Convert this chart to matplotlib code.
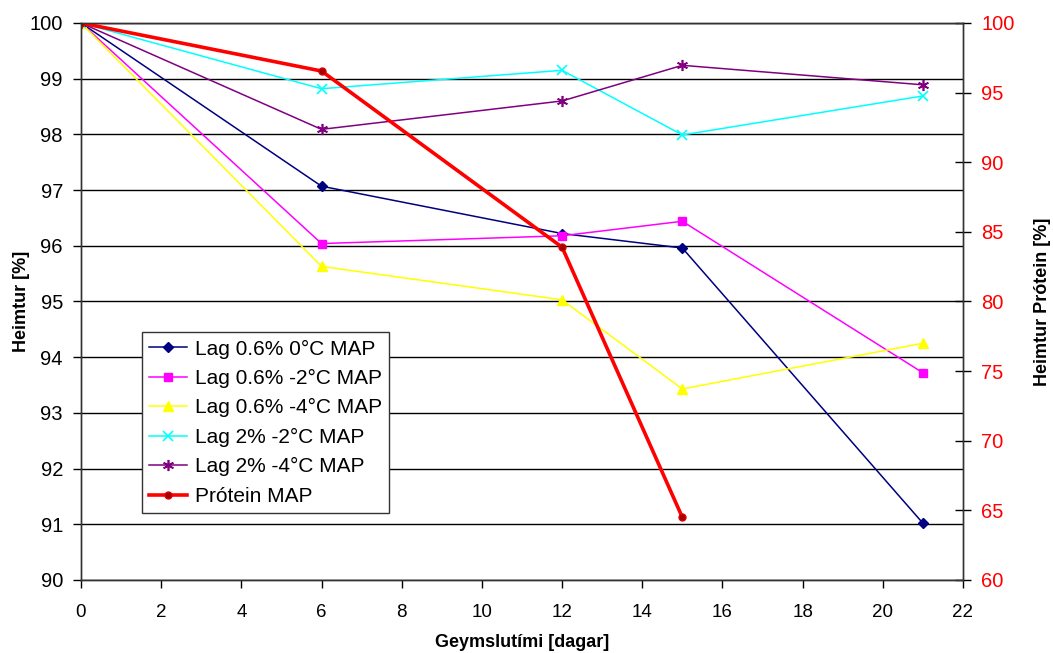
import matplotlib
matplotlib.use("Agg")
import matplotlib.pyplot as plt

plt.rcParams['font.family'] = ['Liberation Sans', 'DejaVu Sans']

# storage days and relative yield per treatment
days = [0, 6, 12, 15, 21]
lag06_0 = [100, 97.07, 96.22, 95.96, 91.02]
lag06_m2 = [100, 96.04, 96.18, 96.44, 93.72]
lag06_m4 = [100, 95.63, 95.03, 93.43, 94.25]
lag2_m2 = [100, 98.82, 99.15, 97.99, 98.69]
lag2_m4 = [100, 98.09, 98.60, 99.24, 98.89]

protein_days = [0, 6, 12, 15]
protein = [100, 96.55, 83.9, 64.5]

labels = ['Lag 0.6% 0°C MAP', 'Lag 0.6% -2°C MAP', 'Lag 0.6% -4°C MAP',
          'Lag 2% -2°C MAP', 'Lag 2% -4°C MAP', 'Prótein MAP']

fig = plt.figure(figsize=(10.53, 6.53), dpi=100)
ax = fig.add_axes([0.0769, 0.1118, 0.8376, 0.853])

ax.set_xlim(0, 22)
ax.set_ylim(90, 100)
ax.set_xticks(range(0, 23, 2))
ax.set_yticks(range(90, 101))
ax.yaxis.grid(True, color='black', linewidth=1)
ax.set_axisbelow(True)

lines = []
lines += ax.plot(days, lag06_0, color='#000080', marker='D', markersize=5, lw=1.1)
lines += ax.plot(days, lag06_m2, color='#FF00FF', marker='s', markersize=6, lw=1.1)
lines += ax.plot(days, lag06_m4, color='#FFFF00', marker='^', markersize=7, lw=1.1)
lines += ax.plot(days, lag2_m2, color='#00FFFF', marker='x', markersize=7, mew=1.2, lw=1.1)
lines += ax.plot(days, lag2_m4, color='#800080', marker=(6, 2, 0), markersize=8, mew=1.2, lw=1.1)

ax2 = ax.twinx()
ax2.set_ylim(60, 100)
ax2.set_yticks(range(60, 101, 5))
lines += ax2.plot(protein_days, protein, color='#FF0000', marker='o', markersize=5,
                  markerfacecolor='#A00000', markeredgecolor='#E00000', lw=2.6)

for a in (ax, ax2):
    for s in a.spines.values():
        s.set_color('#333333')
        s.set_linewidth(1)

ax.tick_params(axis='y', direction='out', length=6, width=1, pad=7, labelsize=14.5)
ax.tick_params(axis='x', direction='out', length=6, width=1, pad=11, labelsize=13.5)
ax2.tick_params(axis='y', direction='inout', length=12, width=1, pad=7,
                labelsize=14.5, labelcolor='#FF0000')

ax.set_xlabel('Geymslutími [dagar]', fontsize=13, fontweight='bold', labelpad=10)
ax.set_ylabel('Heimtur [%]', fontsize=13, fontweight='bold', labelpad=0)
ax2.set_ylabel('Heimtur Prótein [%]', fontsize=13, fontweight='bold', labelpad=14)

leg = ax2.legend(lines, labels, loc='lower left', bbox_to_anchor=(0.069, 0.12),
                 fontsize=15, frameon=True, fancybox=False, framealpha=1,
                 edgecolor='#333333', handlelength=1.8, borderpad=0.35,
                 labelspacing=0.5, handletextpad=0.4, borderaxespad=0)
leg.get_frame().set_linewidth(1)

fig.savefig('out.png', dpi=100)
